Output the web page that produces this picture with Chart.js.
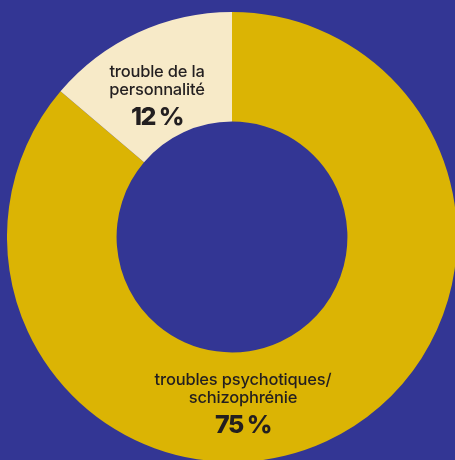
<!DOCTYPE html>
<html>
<head>
<meta charset="utf-8">
<script src="https://cdn.jsdelivr.net/npm/chart.js@4"></script>
<style>
  html, body { margin: 0; padding: 0; width: 455px; height: 460px; overflow: hidden; background: #333694; }
  #wrap { position: absolute; left: 7px; top: 12px; width: 450px; height: 450px; }
</style>
</head>
<body>
<div id="wrap"><canvas id="chart1" width="450" height="450"></canvas></div>
<script>
// Catégories et valeurs (en %)
var categories = ['troubles psychotiques/\nschizophrénie', 'trouble de la\npersonnalité'];
var valeurs = [75, 12];
var couleurs = ['#dbb404', '#f7eac8'];

// Position des étiquettes par rapport au centre de l'anneau
var ancrages = [
    { dx: 11, dy: 148 },
    { dx: -75, dy: -160 }
];

var etiquettes = {
    id: 'etiquettes',
    afterDraw: function (chart) {
        var ctx = chart.ctx;
        var meta = chart.getDatasetMeta(0);
        ctx.save();
        ctx.fillStyle = '#231f20';
        ctx.textAlign = 'center';
        ctx.textBaseline = 'alphabetic';
        meta.data.forEach(function (arc, i) {
            var x = arc.x + ancrages[i].dx;
            var y = arc.y + ancrages[i].dy;
            var lignes = categories[i].split('\n');
            ctx.font = '500 16.5px Inter';
            ctx.letterSpacing = '-0.2px';
            lignes.forEach(function (l, j) {
                ctx.fillText(l, x, y + j * 18);
            });
            ctx.font = '800 25px Inter';
            ctx.letterSpacing = '-1.5px';
            ctx.fillText(valeurs[i] + ' %', x, y + 48);
        });
        ctx.restore();
    }
};

var ctx = document.getElementById('chart1').getContext('2d');
var chart = new Chart(ctx, {
    type: 'doughnut',
    data: {
        labels: categories,
        datasets: [{
            data: valeurs,
            backgroundColor: couleurs,
            borderWidth: 0
        }]
    },
    options: {
        responsive: false,
        animation: false,
        cutout: '51.3%',
        layout: { padding: 0 },
        plugins: {
            legend: { display: false },
            tooltip: { enabled: false }
        }
    },
    plugins: [etiquettes]
});
</script>
</body>
</html>
